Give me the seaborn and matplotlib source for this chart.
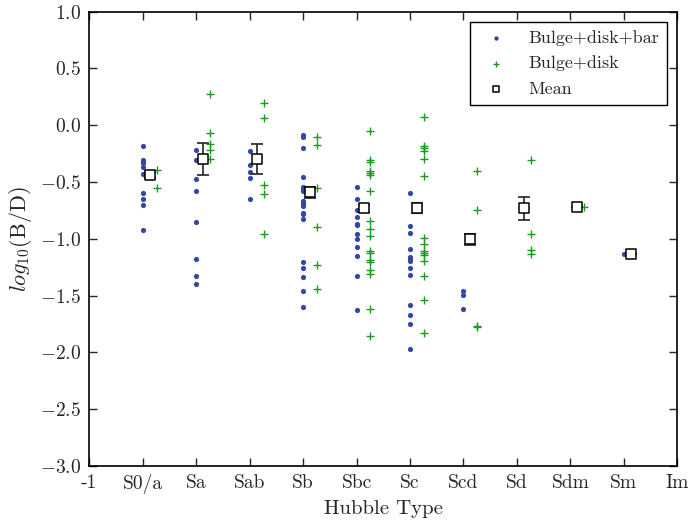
import numpy as np
import pandas as pd
import matplotlib
matplotlib.use("Agg")
import matplotlib.pyplot as plt
import seaborn as sns

# Hubble types on the x axis (position = index in this list)
types = ["S0/a", "Sa", "Sab", "Sb", "Sbc", "Sc", "Scd", "Sd", "Sdm", "Sm"]
tick_labels = ["-1"] + types + ["Im"]

# log10(B/D), bulge+disk+bar fits, one list per type
bar_logbd = [
    [-0.18, -0.305, -0.323, -0.335, -0.37, -0.43, -0.60, -0.65, -0.70, -0.92],
    [-0.22, -0.305, -0.473, -0.578, -0.854, -1.18, -1.33, -1.395],
    [-0.229, -0.352, -0.414, -0.461, -0.651],
    [-0.088, -0.106, -0.202, -0.452, -0.546, -0.561, -0.578, -0.664, -0.681,
     -0.695, -0.71, -0.77, -0.784, -0.826, -1.20, -1.259, -1.335, -1.459, -1.60],
    [-0.54, -0.649, -0.748, -0.807, -0.871, -0.88, -0.96, -0.998, -1.069,
     -1.15, -1.33, -1.623],
    [-0.599, -0.884, -0.951, -1.089, -1.157, -1.177, -1.195, -1.256, -1.315,
     -1.579, -1.673, -1.752, -1.972],
    [-1.461, -1.497, -1.617],
    [],
    [],
    [-1.13],
]

# log10(B/D), bulge+disk fits
disk_logbd = [
    [-0.396, -0.552],
    [0.278, -0.07, -0.165, -0.22, -0.30],
    [0.194, 0.062, -0.528, -0.605, -0.96],
    [-0.106, -0.173, -0.555, -0.898, -1.23, -1.44],
    [-0.048, -0.305, -0.323, -0.405, -0.423, -0.44, -0.581, -0.84, -0.91,
     -0.972, -1.104, -1.121, -1.186, -1.20, -1.274, -1.309, -1.614, -1.852],
    [0.073, -0.18, -0.197, -0.224, -0.297, -0.446, -0.992, -1.048, -1.109,
     -1.127, -1.144, -1.197, -1.327, -1.538, -1.831],
    [-0.405, -0.746, -1.764, -1.773],
    [-0.308, -0.957, -1.10, -1.136],
    [-0.722],
    [],
]

mean_logbd = [-0.44, -0.30, -0.297, -0.59, -0.73, -0.73, -1.004, -0.73, -0.722, -1.13]
mean_err = [0.025, 0.14, 0.135, 0.05, 0.03, 0.045, 0.05, 0.10, 0.0, 0.0]

# --- build tables ---
bar_df = pd.DataFrame([(i, v) for i, vals in enumerate(bar_logbd) for v in vals],
                      columns=["pos", "logbd"])
disk_df = pd.DataFrame([(i + 0.26, v) for i, vals in enumerate(disk_logbd) for v in vals],
                       columns=["pos", "logbd"])
mean_df = pd.DataFrame({"pos": np.arange(len(types)) + 0.13,
                        "logbd": mean_logbd, "err": mean_err})

# --- style ---
sns.set_style("ticks")
plt.rcParams["font.family"] = ["cmr10", "DejaVu Serif"]
plt.rcParams["mathtext.fontset"] = "cm"
plt.rcParams["axes.formatter.use_mathtext"] = True
plt.rcParams["axes.unicode_minus"] = True

fig = plt.figure(figsize=(6.89, 5.29), dpi=100)
ax = fig.add_axes([0.1296, 0.1191, 0.8534, 0.8588])

blue = "#3347a8"
green = "#1a9a1a"

sns.scatterplot(data=bar_df, x="pos", y="logbd", color=blue, marker="o",
                s=14, linewidth=0, label="Bulge+disk+bar", ax=ax, zorder=3)
sns.scatterplot(data=disk_df, x="pos", y="logbd", color=green, marker="+",
                s=40, linewidth=1.0, label="Bulge+disk", ax=ax, zorder=3)
ax.errorbar(mean_df["pos"], mean_df["logbd"], yerr=mean_df["err"], fmt="none",
            ecolor="#222222", elinewidth=1.2, capsize=4, capthick=1.2, zorder=4)
sns.scatterplot(data=mean_df, x="pos", y="logbd", marker="s", s=50,
                facecolor="white", edgecolor="black", linewidth=1.1,
                label="Mean", ax=ax, zorder=5)

ax.set_xlim(-1, 10)
ax.set_ylim(-3, 1)
ax.set_xticks(range(-1, 11))
ax.set_xticklabels(tick_labels)
ax.set_yticks(np.arange(-3, 1.01, 0.5))
ax.yaxis.set_major_formatter(matplotlib.ticker.FormatStrFormatter("$%.1f$"))
ax.tick_params(direction="in", top=True, right=True, length=6, width=1,
               labelsize=14, pad=6)
for sp in ax.spines.values():
    sp.set_linewidth(1.2)
    sp.set_color("black")

ax.set_xlabel("Hubble Type", fontsize=15)
ax.set_ylabel(r"$log_{10}$(B/D)", fontsize=16)

leg = ax.legend(loc="upper right", fontsize=13, frameon=True, fancybox=False,
                edgecolor="black", framealpha=1, borderaxespad=0.55,
                handlelength=2.0, handletextpad=0.8, labelspacing=0.55,
                borderpad=0.45)
leg.get_frame().set_linewidth(1.0)
# smaller legend markers, as in the reference
leg.legend_handles[0].set_sizes([10])
leg.legend_handles[1].set_sizes([25])
leg.legend_handles[2].set_sizes([25])

fig.savefig("out.png", dpi=100)
